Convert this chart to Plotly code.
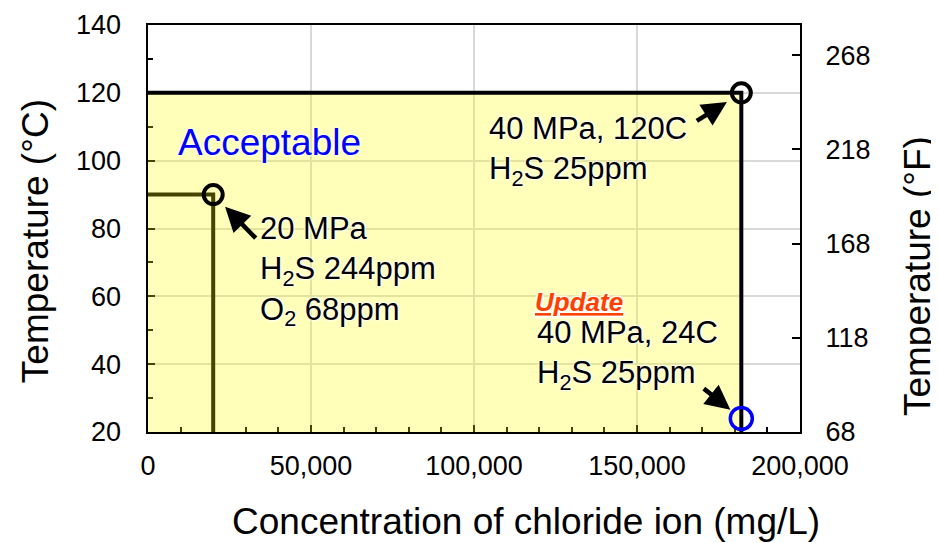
import plotly.graph_objects as go

# data
chloride_limit = [20000, 182000]      # mg/L
temp_limit_c = [90, 120]              # degC
update_chloride = [182000]
update_temp_c = [24]
t_axis_min, t_axis_max = 20, 140
f_ticks = [68, 118, 168, 218, 268]

FONT = "Liberation Sans, Arial, sans-serif"
GRID = "#D9D9D9"
GLOW = "0px 0px 3px white, 0px 0px 3px white, 0px 0px 2px white"

# the page body has an 8px margin, so the figure is drawn 8px smaller
PAGE_PAD = 8


def c_to_f(c):
    return c * 9 / 5 + 32


fig = go.Figure()

# 20 MPa limit (black line, tinted by the fill drawn over it)
fig.add_trace(go.Scatter(x=[0, chloride_limit[0], chloride_limit[0]],
                         y=[temp_limit_c[0], temp_limit_c[0], t_axis_min],
                         mode="lines",
                         line=dict(color="black", width=4),
                         hoverinfo="skip"))

# acceptable region
fig.add_trace(go.Scatter(x=[0, chloride_limit[1], chloride_limit[1], 0, 0],
                         y=[t_axis_min, t_axis_min, temp_limit_c[1],
                            temp_limit_c[1], t_axis_min],
                         mode="lines",
                         fill="toself",
                         fillcolor="rgba(255,255,0,0.27)",
                         line=dict(width=0),
                         hoverinfo="skip"))

# 40 MPa limit
fig.add_trace(go.Scatter(x=[0, chloride_limit[1], chloride_limit[1]],
                         y=[temp_limit_c[1], temp_limit_c[1], t_axis_min],
                         mode="lines",
                         line=dict(color="black", width=4),
                         hoverinfo="skip"))

fig.add_trace(go.Scatter(x=chloride_limit,
                         y=temp_limit_c,
                         mode="markers",
                         marker=dict(symbol="circle-open", size=19,
                                     color="black",
                                     line=dict(width=4, color="black"))))

fig.add_trace(go.Scatter(x=update_chloride,
                         y=update_temp_c,
                         mode="markers",
                         marker=dict(symbol="circle-open", size=22,
                                     color="#0000FF",
                                     line=dict(width=3.5, color="#0000FF"))))

# invisible trace to bring up the right (degF) axis
fig.add_trace(go.Scatter(x=[0], y=[c_to_f(t_axis_min)], yaxis="y2",
                         mode="markers", marker=dict(opacity=0),
                         hoverinfo="skip"))

txt = dict(font=dict(family=FONT, size=31, color="black", shadow=GLOW),
           showarrow=False, xanchor="left", yanchor="middle", align="left")

annotations = [
    dict(x=8600, y=105.5, text="Acceptable",
         font=dict(family=FONT, size=37, color="#0000FF", shadow=GLOW),
         showarrow=False, xanchor="left", yanchor="middle"),
    dict(txt, x=33700, y=67.5,
         text="20 MPa<br>H<sub>2</sub>S 244ppm<br>O<sub>2</sub> 68ppm"),
    dict(txt, x=104000, y=102.9,
         text="40 MPa, 120C<br>H<sub>2</sub>S 25ppm"),
    dict(x=118100, y=58.4, text="<b><i><u>Update</u></i></b>",
         font=dict(family=FONT, size=26, color="#FF3F00", shadow=GLOW),
         showarrow=False, xanchor="left", yanchor="middle"),
    dict(txt, x=118700, y=42.7,
         text="40 MPa, 24C<br>H<sub>2</sub>S 25ppm"),
]

arrow = dict(text="", showarrow=True, arrowhead=2, arrowsize=1.1,
             arrowwidth=4.5, arrowcolor="black")
annotations += [
    dict(arrow, x=chloride_limit[0], y=temp_limit_c[0], ax=44, ay=45,
         standoff=17),
    dict(arrow, x=chloride_limit[1], y=temp_limit_c[1], ax=-46, ay=29,
         standoff=17),
    dict(arrow, x=update_chloride[0], y=update_temp_c[0], ax=-39, ay=-31,
         standoff=14),
]

title_font = dict(family=FONT, size=37, color="black")
title = dict(xref="paper", yref="paper", showarrow=False, font=title_font,
             xanchor="center", yanchor="middle")
annotations += [
    dict(title, x=-0.1733, y=0.469, text="Temperature (\u00b0C)",
         textangle=-90),
    dict(title, x=1.1794, y=0.383, text="Temperature (\u00b0F)",
         textangle=-90),
    dict(title, x=0.58, y=-0.221,
         text="Concentration of chloride ion (mg/L)"),
]

fig.update_layout(width=939 - PAGE_PAD,
                  height=543 - PAGE_PAD,
                  plot_bgcolor="white",
                  paper_bgcolor="white",
                  showlegend=False,
                  font=dict(family=FONT, size=27, color="black"),
                  margin=dict(l=148 - PAGE_PAD, r=139, t=25 - PAGE_PAD,
                              b=111, autoexpand=False),
                  annotations=annotations)

fig.update_xaxes(range=[0, 200000],
                 dtick=50000,
                 tickformat=",",
                 showgrid=True,
                 gridcolor=GRID,
                 gridwidth=1.5,
                 zeroline=False,
                 showline=True,
                 mirror=True,
                 linecolor="black",
                 linewidth=2,
                 ticks="inside",
                 ticklen=7,
                 tickwidth=2,
                 tickcolor="black",
                 ticklabelstandoff=9,
                 tickfont=dict(size=27),
                 minor=dict(dtick=10000, ticks="inside", ticklen=5,
                            tickwidth=2, tickcolor="black", showgrid=False),
                 layer="below traces")

fig.update_layout(
    yaxis=dict(range=[t_axis_min, t_axis_max],
               dtick=20,
               showgrid=True,
               gridcolor=GRID,
               gridwidth=1.5,
               zeroline=False,
               showline=False,
               ticks="inside",
               ticklen=7,
               tickwidth=2,
               tickcolor="black",
               ticklabelstandoff=26,
               tickfont=dict(size=27),
               minor=dict(dtick=10, ticks="inside", ticklen=5, tickwidth=2,
                          tickcolor="black", showgrid=False),
               layer="below traces"),
    yaxis2=dict(overlaying="y",
                side="right",
                range=[c_to_f(t_axis_min), c_to_f(t_axis_max)],
                tickvals=f_ticks,
                showgrid=False,
                zeroline=False,
                showline=True,
                mirror=True,
                linecolor="black",
                linewidth=2,
                ticks="inside",
                ticklen=8,
                tickwidth=2,
                tickcolor="black",
                ticklabelstandoff=18,
                tickfont=dict(size=27),
                layer="above traces"))

fig.write_html("out.html")
